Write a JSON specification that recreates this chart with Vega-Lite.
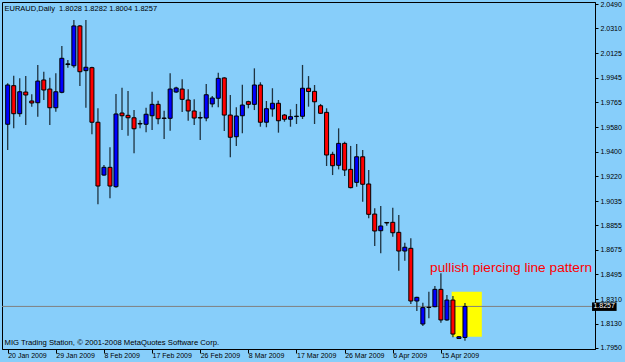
{
  "$schema": "https://vega.github.io/schema/vega-lite/v6.json",
  "width": 593,
  "height": 347,
  "autosize": {"type": "none"},
  "padding": {"left": 2, "top": 2, "right": 30, "bottom": 13},
  "background": "#87CEFA",
  "config": {
    "view": {"stroke": "#000000", "strokeWidth": 1},
    "font": "Liberation Sans",
    "axis": {"labelOverlap": false, "labelFlush": false, "labelBound": false, "grid": false, "labelColor": "#000000", "tickColor": "#000000", "domainColor": "#000000", "labelFont": "Liberation Sans", "titleFont": "Liberation Sans", "titleFontWeight": "normal", "titleColor": "#000000", "labelFontSize": 7},
    "axisX": {"labelAlign": "left", "labelBaseline": "top", "labelPadding": -1.5, "labelDx": -1, "tickSize": 4, "titleAnchor": "start", "titleAlign": "left", "titleBaseline": "alphabetic", "titleX": 2, "titleY": -4.7, "titleFontSize": 7.7},
    "axisY": {"labelPadding": 2, "tickSize": 3, "titleAngle": 0, "titleAnchor": "start", "titleAlign": "left", "titleBaseline": "alphabetic", "titleX": -591, "titleY": 8, "titleFontSize": 7.5}
  },
  "datasets": {
    "candles": [
      {"i": 0, "date": "2009-01-20", "o": 1.9602, "h": 1.9904, "l": 1.9412, "c": 1.9892},
      {"i": 1, "date": "2009-01-21", "o": 1.9887, "h": 1.9961, "l": 1.9572, "c": 1.9680},
      {"i": 2, "date": "2009-01-22", "o": 1.9680, "h": 1.9941, "l": 1.9658, "c": 1.9842},
      {"i": 3, "date": "2009-01-23", "o": 1.9840, "h": 1.9958, "l": 1.9597, "c": 1.9818},
      {"i": 4, "date": "2009-01-25", "o": 1.9774, "h": 1.9823, "l": 1.9732, "c": 1.9759},
      {"i": 5, "date": "2009-01-26", "o": 1.9761, "h": 2.0040, "l": 1.9658, "c": 1.9921},
      {"i": 6, "date": "2009-01-27", "o": 1.9929, "h": 1.9990, "l": 1.9781, "c": 1.9855},
      {"i": 7, "date": "2009-01-28", "o": 1.9862, "h": 1.9946, "l": 1.9597, "c": 1.9724},
      {"i": 8, "date": "2009-01-29", "o": 1.9724, "h": 1.9978, "l": 1.9695, "c": 1.9842},
      {"i": 9, "date": "2009-01-30", "o": 1.9838, "h": 2.0180, "l": 1.9831, "c": 2.0089},
      {"i": 10, "date": "2009-02-01", "o": 2.0043, "h": 2.0077, "l": 2.0020, "c": 2.0048},
      {"i": 11, "date": "2009-02-02", "o": 2.0034, "h": 2.0372, "l": 2.0020, "c": 2.0328},
      {"i": 12, "date": "2009-02-03", "o": 2.0328, "h": 2.0335, "l": 1.9885, "c": 1.9990},
      {"i": 13, "date": "2009-02-04", "o": 1.9998, "h": 2.0372, "l": 1.9724, "c": 2.0023},
      {"i": 14, "date": "2009-02-05", "o": 2.0020, "h": 2.0027, "l": 1.9528, "c": 1.9617},
      {"i": 15, "date": "2009-02-06", "o": 1.9617, "h": 1.9720, "l": 1.9011, "c": 1.9146},
      {"i": 16, "date": "2009-02-08", "o": 1.9227, "h": 1.9301, "l": 1.9222, "c": 1.9284},
      {"i": 17, "date": "2009-02-09", "o": 1.9284, "h": 1.9432, "l": 1.9055, "c": 1.9146},
      {"i": 18, "date": "2009-02-10", "o": 1.9141, "h": 1.9825, "l": 1.9134, "c": 1.9678},
      {"i": 19, "date": "2009-02-11", "o": 1.9685, "h": 1.9872, "l": 1.9560, "c": 1.9665},
      {"i": 20, "date": "2009-02-12", "o": 1.9668, "h": 1.9848, "l": 1.9518, "c": 1.9650},
      {"i": 21, "date": "2009-02-13", "o": 1.9650, "h": 1.9707, "l": 1.9388, "c": 1.9569},
      {"i": 22, "date": "2009-02-15", "o": 1.9608, "h": 1.9631, "l": 1.9572, "c": 1.9604},
      {"i": 23, "date": "2009-02-16", "o": 1.9602, "h": 1.9724, "l": 1.9543, "c": 1.9676},
      {"i": 24, "date": "2009-02-17", "o": 1.9665, "h": 1.9842, "l": 1.9560, "c": 1.9749},
      {"i": 25, "date": "2009-02-18", "o": 1.9749, "h": 1.9776, "l": 1.9602, "c": 1.9643},
      {"i": 26, "date": "2009-02-19", "o": 1.9648, "h": 1.9702, "l": 1.9493, "c": 1.9645},
      {"i": 27, "date": "2009-02-20", "o": 1.9646, "h": 1.9978, "l": 1.9554, "c": 1.9862},
      {"i": 28, "date": "2009-02-22", "o": 1.9840, "h": 1.9879, "l": 1.9835, "c": 1.9870},
      {"i": 29, "date": "2009-02-23", "o": 1.9862, "h": 1.9934, "l": 1.9693, "c": 1.9786},
      {"i": 30, "date": "2009-02-24", "o": 1.9781, "h": 1.9860, "l": 1.9628, "c": 1.9700},
      {"i": 31, "date": "2009-02-25", "o": 1.9700, "h": 1.9786, "l": 1.9597, "c": 1.9648},
      {"i": 32, "date": "2009-02-26", "o": 1.9652, "h": 1.9695, "l": 1.9486, "c": 1.9648},
      {"i": 33, "date": "2009-02-27", "o": 1.9648, "h": 1.9899, "l": 1.9624, "c": 1.9820},
      {"i": 34, "date": "2009-03-01", "o": 1.9752, "h": 1.9811, "l": 1.9727, "c": 1.9796},
      {"i": 35, "date": "2009-03-02", "o": 1.9794, "h": 1.9983, "l": 1.9727, "c": 1.9941},
      {"i": 36, "date": "2009-03-03", "o": 1.9944, "h": 1.9949, "l": 1.9552, "c": 1.9670},
      {"i": 37, "date": "2009-03-04", "o": 1.9670, "h": 1.9818, "l": 1.9358, "c": 1.9506},
      {"i": 38, "date": "2009-03-05", "o": 1.9510, "h": 1.9727, "l": 1.9442, "c": 1.9663},
      {"i": 39, "date": "2009-03-06", "o": 1.9665, "h": 1.9894, "l": 1.9535, "c": 1.9744},
      {"i": 40, "date": "2009-03-08", "o": 1.9769, "h": 1.9776, "l": 1.9720, "c": 1.9749},
      {"i": 41, "date": "2009-03-09", "o": 1.9749, "h": 2.0015, "l": 1.9707, "c": 1.9892},
      {"i": 42, "date": "2009-03-10", "o": 1.9892, "h": 1.9912, "l": 1.9584, "c": 1.9617},
      {"i": 43, "date": "2009-03-11", "o": 1.9617, "h": 1.9774, "l": 1.9580, "c": 1.9717},
      {"i": 44, "date": "2009-03-12", "o": 1.9715, "h": 1.9868, "l": 1.9658, "c": 1.9757},
      {"i": 45, "date": "2009-03-13", "o": 1.9757, "h": 1.9781, "l": 1.9540, "c": 1.9628},
      {"i": 46, "date": "2009-03-15", "o": 1.9670, "h": 1.9678, "l": 1.9621, "c": 1.9639},
      {"i": 47, "date": "2009-03-16", "o": 1.9639, "h": 1.9712, "l": 1.9584, "c": 1.9658},
      {"i": 48, "date": "2009-03-17", "o": 1.9659, "h": 1.9752, "l": 1.9604, "c": 1.9662},
      {"i": 49, "date": "2009-03-18", "o": 1.9661, "h": 2.0040, "l": 1.9641, "c": 1.9868},
      {"i": 50, "date": "2009-03-19", "o": 1.9868, "h": 1.9958, "l": 1.9732, "c": 1.9844},
      {"i": 51, "date": "2009-03-20", "o": 1.9845, "h": 1.9892, "l": 1.9604, "c": 1.9768},
      {"i": 52, "date": "2009-03-22", "o": 1.9739, "h": 1.9752, "l": 1.9678, "c": 1.9683},
      {"i": 53, "date": "2009-03-23", "o": 1.9690, "h": 1.9720, "l": 1.9294, "c": 1.9375},
      {"i": 54, "date": "2009-03-24", "o": 1.9380, "h": 1.9399, "l": 1.9227, "c": 1.9296},
      {"i": 55, "date": "2009-03-25", "o": 1.9299, "h": 1.9572, "l": 1.9269, "c": 1.9461},
      {"i": 56, "date": "2009-03-26", "o": 1.9461, "h": 1.9473, "l": 1.9220, "c": 1.9264},
      {"i": 57, "date": "2009-03-27", "o": 1.9269, "h": 1.9442, "l": 1.9129, "c": 1.9134},
      {"i": 58, "date": "2009-03-30", "o": 1.9173, "h": 1.9456, "l": 1.9141, "c": 1.9362},
      {"i": 59, "date": "2009-03-31", "o": 1.9362, "h": 1.9412, "l": 1.9030, "c": 1.9159},
      {"i": 60, "date": "2009-04-01", "o": 1.9161, "h": 1.9264, "l": 1.8908, "c": 1.8937},
      {"i": 61, "date": "2009-04-02", "o": 1.8939, "h": 1.8981, "l": 1.8703, "c": 1.8814},
      {"i": 62, "date": "2009-04-03", "o": 1.8816, "h": 1.8998, "l": 1.8649, "c": 1.8851},
      {"i": 63, "date": "2009-04-05", "o": 1.8877, "h": 1.8880, "l": 1.8853, "c": 1.8873},
      {"i": 64, "date": "2009-04-06", "o": 1.8878, "h": 1.8986, "l": 1.8772, "c": 1.8801},
      {"i": 65, "date": "2009-04-07", "o": 1.8804, "h": 1.8932, "l": 1.8521, "c": 1.8666},
      {"i": 66, "date": "2009-04-08", "o": 1.8666, "h": 1.8727, "l": 1.8595, "c": 1.8694},
      {"i": 67, "date": "2009-04-09", "o": 1.8686, "h": 1.8760, "l": 1.8275, "c": 1.8297},
      {"i": 68, "date": "2009-04-10", "o": 1.8297, "h": 1.8329, "l": 1.8223, "c": 1.8324},
      {"i": 69, "date": "2009-04-12", "o": 1.8127, "h": 1.8284, "l": 1.8112, "c": 1.8248},
      {"i": 70, "date": "2009-04-13", "o": 1.8249, "h": 1.8366, "l": 1.8169, "c": 1.8251},
      {"i": 71, "date": "2009-04-14", "o": 1.8255, "h": 1.8408, "l": 1.8250, "c": 1.8383},
      {"i": 72, "date": "2009-04-15", "o": 1.8383, "h": 1.8502, "l": 1.8137, "c": 1.8157},
      {"i": 73, "date": "2009-04-16", "o": 1.8157, "h": 1.8341, "l": 1.8152, "c": 1.8304},
      {"i": 74, "date": "2009-04-17", "o": 1.8304, "h": 1.8334, "l": 1.8029, "c": 1.8053},
      {"i": 75, "date": "2009-04-19", "o": 1.8020, "h": 1.8039, "l": 1.8016, "c": 1.8033},
      {"i": 76, "date": "2009-04-20", "o": 1.8028, "h": 1.8282, "l": 1.8004, "c": 1.8257}
    ],
    "box": [{"i": 73.79, "i2": 78.8, "v": 1.8366, "v2": 1.8033}],
    "note": [{"i": 70.2, "v": 1.8513, "label": "pullish piercing line pattern"}],
    "last": [{"price": 1.8257, "i": 97.12, "i2": 101.2, "it": 97.35}]
  },
  "layer": [
    {
      "data": {"name": "box"},
      "mark": {"type": "rect", "fill": "#FFFF00"},
      "encoding": {
        "x": {"field": "i", "type": "quantitative", "scale": {"domain": [-0.1144, 96.78], "nice": false, "zero": false},
          "axis": {"values": [0, 8, 16, 24, 32, 40, 48, 56, 64, 72], "labelExpr": "['20 Jan 2009','29 Jan 2009','8 Feb 2009','17 Feb 2009','26 Feb 2009','8 Mar 2009','17 Mar 2009','26 Mar 2009','6 Apr 2009','15 Apr 2009'][datum.value / 8]", "labelOverlap": false, "title": "MIG Trading Station, © 2001-2008 MetaQuotes Software Corp."}},
        "x2": {"field": "i2"},
        "y": {"field": "v", "type": "quantitative", "scale": {"domain": [1.79426, 2.05048], "nice": false, "zero": false},
          "axis": {"orient": "right", "values": [2.049, 2.031, 2.0125, 1.9945, 1.9765, 1.958, 1.94, 1.922, 1.9035, 1.8855, 1.8675, 1.8495, 1.831, 1.813, 1.795], "format": ".4f", "labelOverlap": false, "title": "EURAUD,Daily\u00a0 1.8028 1.8282 1.8004 1.8257"}},
        "y2": {"field": "v2"}
      }
    },
    {
      "data": {"name": "last"},
      "mark": {"type": "rule", "color": "#808080", "strokeWidth": 1},
      "encoding": {
        "y": {"field": "price", "type": "quantitative", "scale": {"domain": [1.79426, 2.05048], "nice": false, "zero": false},
          "axis": {"orient": "right", "values": [2.049, 2.031, 2.0125, 1.9945, 1.9765, 1.958, 1.94, 1.922, 1.9035, 1.8855, 1.8675, 1.8495, 1.831, 1.813, 1.795], "format": ".4f", "labelOverlap": false, "title": "EURAUD,Daily\u00a0 1.8028 1.8282 1.8004 1.8257"}}
      }
    },
    {
      "data": {"name": "candles"},
      "mark": {"type": "rule", "color": "#1f3340", "strokeWidth": 1.3},
      "encoding": {
        "x": {"field": "i", "type": "quantitative", "scale": {"domain": [-0.1144, 96.78], "nice": false, "zero": false},
          "axis": {"values": [0, 8, 16, 24, 32, 40, 48, 56, 64, 72], "labelExpr": "['20 Jan 2009','29 Jan 2009','8 Feb 2009','17 Feb 2009','26 Feb 2009','8 Mar 2009','17 Mar 2009','26 Mar 2009','6 Apr 2009','15 Apr 2009'][datum.value / 8]", "labelOverlap": false, "title": "MIG Trading Station, © 2001-2008 MetaQuotes Software Corp."}},
        "y": {"field": "l", "type": "quantitative", "scale": {"domain": [1.79426, 2.05048], "nice": false, "zero": false},
          "axis": {"orient": "right", "values": [2.049, 2.031, 2.0125, 1.9945, 1.9765, 1.958, 1.94, 1.922, 1.9035, 1.8855, 1.8675, 1.8495, 1.831, 1.813, 1.795], "format": ".4f", "labelOverlap": false, "title": "EURAUD,Daily\u00a0 1.8028 1.8282 1.8004 1.8257"}},
        "y2": {"field": "h"}
      }
    },
    {
      "data": {"name": "candles"},
      "mark": {"type": "bar", "width": 4, "stroke": "#000000", "strokeWidth": 1},
      "encoding": {
        "x": {"field": "i", "type": "quantitative", "scale": {"domain": [-0.1144, 96.78], "nice": false, "zero": false},
          "axis": {"values": [0, 8, 16, 24, 32, 40, 48, 56, 64, 72], "labelExpr": "['20 Jan 2009','29 Jan 2009','8 Feb 2009','17 Feb 2009','26 Feb 2009','8 Mar 2009','17 Mar 2009','26 Mar 2009','6 Apr 2009','15 Apr 2009'][datum.value / 8]", "labelOverlap": false, "title": "MIG Trading Station, © 2001-2008 MetaQuotes Software Corp."}},
        "y": {"field": "o", "type": "quantitative", "scale": {"domain": [1.79426, 2.05048], "nice": false, "zero": false},
          "axis": {"orient": "right", "values": [2.049, 2.031, 2.0125, 1.9945, 1.9765, 1.958, 1.94, 1.922, 1.9035, 1.8855, 1.8675, 1.8495, 1.831, 1.813, 1.795], "format": ".4f", "labelOverlap": false, "title": "EURAUD,Daily\u00a0 1.8028 1.8282 1.8004 1.8257"}},
        "y2": {"field": "c"},
        "fill": {"condition": {"test": "datum.c > datum.o", "value": "#0000FF"}, "value": "#FF0000"}
      }
    },
    {
      "data": {"name": "note"},
      "mark": {"type": "text", "align": "left", "baseline": "alphabetic", "fontSize": 13.7, "font": "Liberation Sans", "color": "#FF0000"},
      "encoding": {
        "x": {"field": "i", "type": "quantitative", "scale": {"domain": [-0.1144, 96.78], "nice": false, "zero": false},
          "axis": {"values": [0, 8, 16, 24, 32, 40, 48, 56, 64, 72], "labelExpr": "['20 Jan 2009','29 Jan 2009','8 Feb 2009','17 Feb 2009','26 Feb 2009','8 Mar 2009','17 Mar 2009','26 Mar 2009','6 Apr 2009','15 Apr 2009'][datum.value / 8]", "labelOverlap": false, "title": "MIG Trading Station, © 2001-2008 MetaQuotes Software Corp."}},
        "y": {"field": "v", "type": "quantitative", "scale": {"domain": [1.79426, 2.05048], "nice": false, "zero": false},
          "axis": {"orient": "right", "values": [2.049, 2.031, 2.0125, 1.9945, 1.9765, 1.958, 1.94, 1.922, 1.9035, 1.8855, 1.8675, 1.8495, 1.831, 1.813, 1.795], "format": ".4f", "labelOverlap": false, "title": "EURAUD,Daily\u00a0 1.8028 1.8282 1.8004 1.8257"}},
        "text": {"field": "label"}
      }
    },
    {
      "data": {"name": "last"},
      "mark": {"type": "rect", "fill": "#000000", "yOffset": -4, "y2Offset": 4.5},
      "encoding": {
        "x": {"field": "i", "type": "quantitative", "scale": {"domain": [-0.1144, 96.78], "nice": false, "zero": false},
          "axis": {"values": [0, 8, 16, 24, 32, 40, 48, 56, 64, 72], "labelExpr": "['20 Jan 2009','29 Jan 2009','8 Feb 2009','17 Feb 2009','26 Feb 2009','8 Mar 2009','17 Mar 2009','26 Mar 2009','6 Apr 2009','15 Apr 2009'][datum.value / 8]", "labelOverlap": false, "title": "MIG Trading Station, © 2001-2008 MetaQuotes Software Corp."}},
        "x2": {"field": "i2"},
        "y": {"field": "price", "type": "quantitative", "scale": {"domain": [1.79426, 2.05048], "nice": false, "zero": false},
          "axis": {"orient": "right", "values": [2.049, 2.031, 2.0125, 1.9945, 1.9765, 1.958, 1.94, 1.922, 1.9035, 1.8855, 1.8675, 1.8495, 1.831, 1.813, 1.795], "format": ".4f", "labelOverlap": false, "title": "EURAUD,Daily\u00a0 1.8028 1.8282 1.8004 1.8257"}},
        "y2": {"field": "price"}
      }
    },
    {
      "data": {"name": "last"},
      "mark": {"type": "text", "align": "left", "baseline": "middle", "fontSize": 7, "font": "Liberation Sans", "color": "#FFFFFF"},
      "encoding": {
        "x": {"field": "it", "type": "quantitative", "scale": {"domain": [-0.1144, 96.78], "nice": false, "zero": false},
          "axis": {"values": [0, 8, 16, 24, 32, 40, 48, 56, 64, 72], "labelExpr": "['20 Jan 2009','29 Jan 2009','8 Feb 2009','17 Feb 2009','26 Feb 2009','8 Mar 2009','17 Mar 2009','26 Mar 2009','6 Apr 2009','15 Apr 2009'][datum.value / 8]", "labelOverlap": false, "title": "MIG Trading Station, © 2001-2008 MetaQuotes Software Corp."}},
        "y": {"field": "price", "type": "quantitative", "scale": {"domain": [1.79426, 2.05048], "nice": false, "zero": false},
          "axis": {"orient": "right", "values": [2.049, 2.031, 2.0125, 1.9945, 1.9765, 1.958, 1.94, 1.922, 1.9035, 1.8855, 1.8675, 1.8495, 1.831, 1.813, 1.795], "format": ".4f", "labelOverlap": false, "title": "EURAUD,Daily\u00a0 1.8028 1.8282 1.8004 1.8257"}},
        "text": {"field": "price", "format": ".4f"}
      }
    }
  ]
}
